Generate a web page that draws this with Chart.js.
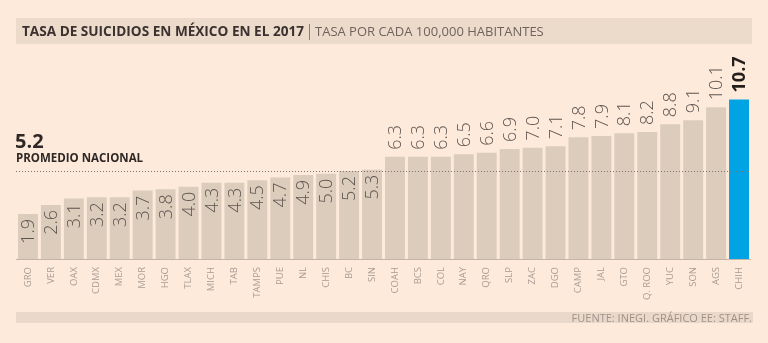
<!DOCTYPE html>
<html>
<head>
<meta charset="utf-8">
<script src="https://cdn.jsdelivr.net/npm/chart.js@4/dist/chart.umd.min.js"></script>
<style>
  html, body { margin: 0; padding: 0; background: #fdeadb; }
  #wrap { width: 768px; height: 343px; position: relative; }
</style>
</head>
<body>
<div id="wrap"><canvas id="chart" width="768" height="343"></canvas></div>
<script>
// datos: tasa por cada 100,000 habitantes, 2017
var estados = ['GRO', 'VER', 'OAX', 'CDMX', 'MEX', 'MOR', 'HGO', 'TLAX', 'MICH', 'TAB', 'TAMPS', 'PUE', 'NL', 'CHIS', 'BC', 'SIN',
    'COAH', 'BCS', 'COL', 'NAY', 'QRO', 'SLP', 'ZAC', 'DGO', 'CAMP', 'JAL', 'GTO', 'Q. ROO', 'YUC', 'SON', 'AGS', 'CHIH'];
var tasas = [1.9, 2.6, 3.1, 3.2, 3.2, 3.7, 3.8, 4.0, 4.3, 4.3, 4.5, 4.7, 4.9, 5.0, 5.2, 5.3,
    6.3, 6.3, 6.3, 6.5, 6.6, 6.9, 7.0, 7.1, 7.8, 7.9, 8.1, 8.2, 8.8, 9.1, 10.1, 10.7];
var promedio = 5.2;
var destacado = 'CHIH';

var yMin = -1.55;
var yMax = 12;

var colorBarra = 'rgb(219, 204, 188)';
var colorDestacado = 'rgb(0, 164, 228)';

var colores = estados.map(function(e) {
    return e == destacado ? colorDestacado : colorBarra;
});

// titulos, promedio, etiquetas de valor y pie
var decoracion = {
    id: 'decoracion',
    beforeDraw: function(chart) {
        var ctx = chart.ctx;
        ctx.save();
        ctx.fillStyle = '#fdeadb';
        ctx.fillRect(0, 0, chart.width, chart.height);

        // banda del titulo
        ctx.fillStyle = 'rgb(236, 218, 203)';
        ctx.fillRect(16, 18, 736, 26);
        ctx.textBaseline = 'alphabetic';
        ctx.textAlign = 'left';
        ctx.font = 'bold 13.6px "Open Sans"';
        ctx.fillStyle = '#3b3230';
        var titulo = 'TASA DE SUICIDIOS EN MÉXICO EN EL 2017';
        ctx.fillText(titulo, 22, 36);
        var w = ctx.measureText(titulo).width;
        ctx.fillStyle = '#8a7e76';
        ctx.fillRect(22 + w + 5, 24, 1, 16);
        ctx.font = '13px "Open Sans"';
        ctx.fillStyle = '#6f645d';
        ctx.fillText('TASA POR CADA 100,000 HABITANTES', 22 + w + 11, 36);

        // banda del pie
        ctx.fillStyle = 'rgb(234, 217, 202)';
        ctx.fillRect(16, 312, 737, 11);
        ctx.font = '11px "Open Sans"';
        ctx.fillStyle = '#9d9189';
        ctx.textAlign = 'right';
        ctx.fillText('FUENTE: INEGI. GRÁFICO EE: STAFF.', 752, 322);

        // promedio nacional
        ctx.textAlign = 'left';
        ctx.fillStyle = '#2f2825';
        ctx.font = 'bold 20px "Open Sans"';
        ctx.fillText(promedio.toFixed(1), 15, 148);
        ctx.font = 'bold 11.5px "Open Sans"';
        ctx.fillText('PROMEDIO NACIONAL', 16, 162);
        ctx.restore();
    },
    afterDatasetsDraw: function(chart) {
        var ctx = chart.ctx;
        var meta = chart.getDatasetMeta(0);
        var yScale = chart.scales.y;
        var area = chart.chartArea;

        // linea base
        ctx.save();
        ctx.fillStyle = 'rgb(196, 181, 167)';
        ctx.fillRect(16, Math.round(area.bottom), 735, 1);

        // linea punteada del promedio
        var yp = Math.round(yScale.getPixelForValue(promedio)) + 0.5;
        ctx.strokeStyle = '#7d716a';
        ctx.lineWidth = 1;
        ctx.setLineDash([1, 2]);
        ctx.beginPath();
        ctx.moveTo(16, yp);
        ctx.lineTo(750, yp);
        ctx.stroke();
        ctx.restore();

        meta.data.forEach(function(bar, i) {
            var v = tasas[i];
            var esDestacado = estados[i] == destacado;
            ctx.save();
            ctx.translate(bar.x + 1, bar.y);
            ctx.rotate(-Math.PI / 2);
            ctx.textBaseline = 'middle';
            if (esDestacado) {
                ctx.font = 'bold 18px "Open Sans"';
                ctx.fillStyle = '#231d1b';
            } else {
                ctx.font = '300 18px "Open Sans"';
                ctx.fillStyle = '#5e5550';
            }
            if (v < 6) {
                ctx.textAlign = 'right';
                ctx.fillText(v.toFixed(1), -5, 0);
            } else {
                ctx.textAlign = 'left';
                ctx.fillText(v.toFixed(1), 7, 0);
            }
            ctx.restore();
        });
    }
};

var config = {
    type: 'bar',
    data: {
        labels: estados,
        datasets: [{
            data: tasas,
            base: yMin,
            backgroundColor: colores,
            borderWidth: 0,
            barPercentage: 0.87,
            categoryPercentage: 1
        }]
    },
    options: {
        responsive: false,
        animation: false,
        layout: {
            padding: { left: 16.5, right: 17.5, top: 82.5, bottom: 0 }
        },
        plugins: {
            legend: { display: false },
            tooltip: { enabled: false }
        },
        scales: {
            x: {
                grid: { display: false, drawTicks: false },
                border: { display: false },
                ticks: {
                    minRotation: 90,
                    maxRotation: 90,
                    autoSkip: false,
                    padding: 8,
                    color: '#a99c92',
                    font: { family: 'Open Sans', size: 9.5 }
                },
                afterFit: function(scale) {
                    scale.height = 84;
                }
            },
            y: {
                display: false,
                min: yMin,
                max: yMax
            }
        }
    },
    plugins: [decoracion]
};

new Chart(document.getElementById('chart').getContext('2d'), config);
</script>
</body>
</html>
